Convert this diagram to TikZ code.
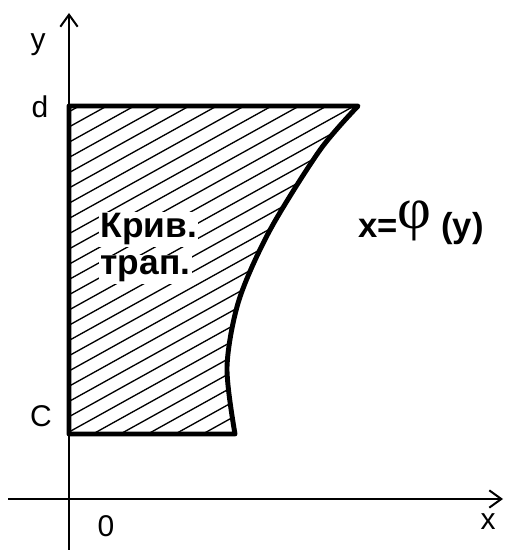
\documentclass[tikz,border=0pt]{standalone}
\usepackage{fontspec}
\setmainfont{Liberation Sans}
\newfontfamily\phifont{Liberation Serif}
\usetikzlibrary{arrows.meta}

\begin{document}
\begin{tikzpicture}[
  x=0.75pt,y=0.75pt,
  axis/.style={line width=1.5pt,-{Straight Barb[length=9pt,width=13pt]}},
  edge/.style={line width=3.7pt,line join=round},
  hatch/.style={line width=1pt},
  lbl/.style={font=\fontsize{22.5}{26}\selectfont,inner sep=0pt,anchor=base},
  trapname/.style={font=\bfseries\fontsize{26.5}{30}\selectfont,fill=white,inner sep=1pt,anchor=base west}
]
  \useasboundingbox (0,0) rectangle (504,550);
  \coordinate (c0) at (69,116);
  \coordinate (d0) at (69,444);
  \coordinate (d1) at (358,444);
  \coordinate (c1) at (235,116);
  % hatching of the region
  \begin{scope}
    \clip (c0) -- (d0) -- (d1)
      -- plot[smooth] coordinates {(d1) (320,400) (270,320) (239,250) (227,183) (c1)} -- cycle;
    \foreach \k in {-7,...,21}
      \draw[hatch] (60,118+15.25*\k-5) -- ++(320,177.6);
  \end{scope}
  \draw[edge] (c0) -- (d0) -- (d1)
    -- plot[smooth] coordinates {(d1) (320,400) (270,320) (239,250) (227,183) (c1)} -- cycle;
  % axes
  \coordinate (ybot) at (69,0);
  \coordinate (ytop) at (69,537);
  \coordinate (xleft) at (8,51);
  \coordinate (xright) at (503,51);
  \draw[axis] (ybot) -- (ytop);
  \draw[axis] (xleft) -- (xright);
  % labels
  \node[lbl] (ylbl) at (38,500) {y};
  \node[lbl] (dlbl) at (40,432) {d};
  \node[lbl] (clbl) at (41,123) {C};
  \node[lbl] (zero) at (106,13) {0};
  \node[lbl] (xlbl) at (488,21) {x};
  \node[trapname] (kriv) at (99,312) {Крив.};
  \node[trapname] (trap) at (99,275) {трап.};
  \node[anchor=base west,inner sep=0pt] (phi) at (358,312)
    {\bfseries\fontsize{26}{32}\selectfont x=\raisebox{7pt}{\phifont\mdseries\fontsize{44}{44}\selectfont φ}\ (y)};
\end{tikzpicture}
\end{document}
